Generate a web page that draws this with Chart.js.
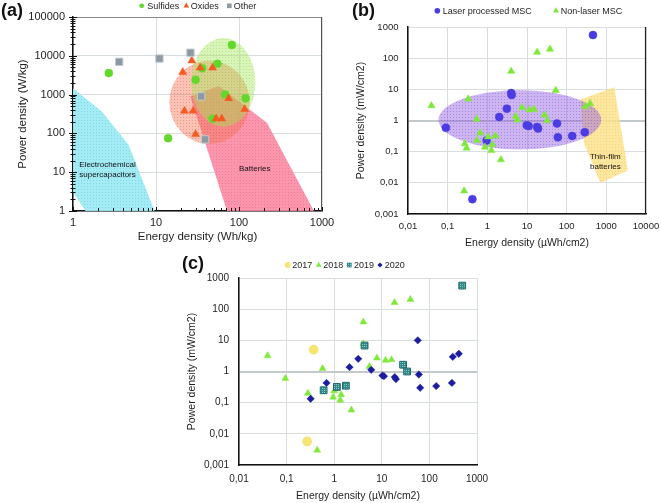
<!DOCTYPE html>
<html>
<head>
<meta charset="utf-8">
<script src="https://cdn.jsdelivr.net/npm/chart.js@4.4.0/dist/chart.umd.min.js"></script>
<style>
html,body{margin:0;padding:0;background:#fff;}
#wrap{position:relative;width:661px;height:503px;overflow:hidden;font-family:"Liberation Sans",Arial,sans-serif;}
#wrap canvas{position:absolute;}
.plabel{position:absolute;font-weight:bold;font-size:18px;line-height:18px;color:#111;}
</style>
</head>
<body>
<div id="wrap">
  <canvas id="ca" width="345" height="250" style="left:0px;top:0px"></canvas>
  <canvas id="cb" width="331" height="250" style="left:330px;top:0px"></canvas>
  <canvas id="cc" width="340" height="253" style="left:160px;top:250px"></canvas>
  <div class="plabel" style="left:1px;top:1px">(a)</div>
  <div class="plabel" style="left:352px;top:1px">(b)</div>
  <div class="plabel" style="left:182px;top:254px">(c)</div>
</div>
<script>
// ---------------- DATA: panel (a) ----------------
const aXTicks = [1, 10, 100, 1000];
const aXTickLabels = ['1', '10', '100', '1000'];
const aYTicks = [1, 10, 100, 1000, 10000, 100000];
const aYTickLabels = ['1', '10', '100', '1000', '10000', '100000'];
const aSulfidesEnergy = [2.7, 14, 30, 36, 55, 82, 68, 120, 48];
const aSulfidesPower  = [3600, 75, 2400, 4800, 6200, 19000, 1000, 800, 240];
const aOxidesEnergy = [21, 27, 34, 48, 22, 28, 30, 75, 53, 62, 117];
const aOxidesPower  = [3800, 7500, 4900, 4900, 380, 380, 95, 800, 240, 240, 420];
const aOtherEnergy = [3.6, 11, 26, 35, 39];
const aOtherPower  = [7000, 8500, 12000, 900, 70];
// shaded regions (energy, power)
const aSupercapRegion = [[1, 1459], [2.24, 363], [4.69, 50], [9.6, 1], [1.41, 1], [1, 3.1]];
const aBatteryRegion = [[25.9, 888], [56.9, 1675], [217, 189], [800, 1], [71.7, 1]];
const aSulfidesEllipse = {center: [64.7, 2064], radiusDecades: [0.386, 1.142]};
const aOxidesEllipse = {center: [44.1, 634], radiusDecades: [0.484, 1.078]};

// ---------------- DATA: panel (b) ----------------
const bXTicks = [0.01, 0.1, 1, 10, 100, 1000, 10000];
const bXTickLabels = ['0,01', '0,1', '1', '10', '100', '1000', '10000'];
const bYTicks = [0.001, 0.01, 0.1, 1, 10, 100, 1000];
const bYTickLabels = ['0,001', '0,01', '0,1', '1', '10', '100', '1000'];
const bLaserEnergy = [0.09, 0.42, 0.96, 2.0, 3.1, 4.0, 4.1, 9.9, 11, 18, 19, 57, 60, 138, 285, 460];
const bLaserPower  = [0.58, 0.003, 0.23, 1.3, 2.4, 7.6, 6.6, 0.7, 0.66, 0.62, 0.55, 0.8, 0.29, 0.32, 0.42, 550];
const bNonLaserEnergy = [0.039, 0.33, 0.54, 0.66, 0.55, 0.27, 0.30, 0.26, 0.87, 1.04, 1.34, 1.26, 1.6, 2.2, 4.0, 5.2, 5.7, 7.5, 11.5, 15, 18, 38, 27.5, 32, 53, 295, 390];
const bNonLaserPower  = [3.0, 4.9, 1.1, 0.4, 0.23, 0.18, 0.13, 0.0055, 0.14, 0.3, 0.17, 0.11, 0.32, 0.055, 38, 1.35, 1.05, 2.6, 2.2, 2.3, 155, 195, 1.5, 1.0, 9.3, 2.8, 3.5];
const bThinFilmRegion = [[220, 4.75], [1592, 11.6], [3470, 0.025], [705, 0.0098], [278, 0.18]];
const bMscEllipse = {center: [6.6, 1.05], radiusDecades: [2.05, 0.95]};

// ---------------- DATA: panel (c) ----------------
const cXTicks = [0.01, 0.1, 1, 10, 100, 1000];
const cXTickLabels = ['0,01', '0,1', '1', '10', '100', '1000'];
const cYTicks = [0.001, 0.01, 0.1, 1, 10, 100, 1000];
const cYTickLabels = ['0,001', '0,01', '0,1', '1', '10', '100', '1000'];
const c2017Energy = [0.37, 0.27];
const c2017Power  = [5, 0.0057];
const c2018Energy = [0.04, 0.094, 0.28, 0.44, 0.57, 0.95, 1.0, 1.34, 1.4, 2.3, 4.1, 4.1, 5.5, 7.9, 12, 16, 18.5, 40];
const c2018Power  = [3.2, 0.6, 0.2, 0.003, 1.25, 0.15, 0.24, 0.12, 0.18, 0.058, 39, 7.7, 1.45, 2.7, 2.3, 2.4, 165, 205];
const c2019Energy = [0.6, 1.14, 1.76, 4.35, 28, 34, 490];
const c2019Power  = [0.25, 0.32, 0.35, 6.8, 1.65, 1.0, 570];
const c2020Energy = [0.32, 0.69, 2.1, 3.2, 6.0, 10.3, 11.1, 18.7, 19.8, 57, 60, 64, 139, 297, 310, 415];
const c2020Power  = [0.133, 0.43, 1.38, 2.55, 1.13, 0.74, 0.71, 0.66, 0.57, 10, 0.8, 0.3, 0.34, 0.43, 2.95, 3.7];

// ---------------- helpers ----------------
const FONT = "'Liberation Sans', Arial, sans-serif";
const TXT = '#1e1e1e';
const GRID = '#d8dde0';
function pts(xs, ys) { return xs.map((x, i) => ({x: x, y: ys[i]})); }
function dotPattern(base, dot, step) {
  const c = document.createElement('canvas');
  c.width = step; c.height = step;
  const g = c.getContext('2d');
  g.fillStyle = base; g.fillRect(0, 0, step, step);
  g.fillStyle = dot;
  g.fillRect(0, 0, 1, 1);
  return g.createPattern(c, 'repeat');
}
function drawMarker(ctx, style, x, y, r) {
  ctx.beginPath();
  if (style === 'circle') ctx.arc(x, y, r, 0, Math.PI * 2);
  else if (style === 'triangle') { ctx.moveTo(x, y - r); ctx.lineTo(x + r * 0.866, y + r * 0.5); ctx.lineTo(x - r * 0.866, y + r * 0.5); ctx.closePath(); }
  else if (style === 'rect') { const s = r * Math.SQRT1_2; ctx.rect(x - s, y - s, 2 * s, 2 * s); }
  else if (style === 'rectRot') { ctx.moveTo(x, y - r); ctx.lineTo(x + r, y); ctx.lineTo(x, y + r); ctx.lineTo(x - r, y); ctx.closePath(); }
  ctx.fill();
}
function regionPlugin(shapes, texts) {
  return {
    id: 'regions',
    beforeDatasetsDraw(chart) {
      const {ctx, chartArea: a, scales: {x, y}} = chart;
      ctx.save();
      ctx.beginPath(); ctx.rect(a.left, a.top, a.right - a.left, a.bottom - a.top); ctx.clip();
      shapes.forEach(s => {
        ctx.fillStyle = s.fill;
        ctx.beginPath();
        if (s.poly) {
          s.poly.forEach((p, i) => {
            const px = x.getPixelForValue(p[0]), py = y.getPixelForValue(p[1]);
            if (i) ctx.lineTo(px, py); else ctx.moveTo(px, py);
          });
          ctx.closePath();
        } else {
          const e = s.ellipse;
          const cx = x.getPixelForValue(e.center[0]), cy = y.getPixelForValue(e.center[1]);
          const rx = x.getPixelForValue(e.center[0] * Math.pow(10, e.radiusDecades[0])) - cx;
          const ry = cy - y.getPixelForValue(e.center[1] * Math.pow(10, e.radiusDecades[1]));
          ctx.ellipse(cx, cy, rx, ry, 0, 0, Math.PI * 2);
        }
        ctx.fill();
      });
      texts.forEach(t => {
        ctx.font = t.font; ctx.fillStyle = '#111'; ctx.textAlign = 'left'; ctx.textBaseline = 'middle';
        const px = x.getPixelForValue(t.at[0]), py = y.getPixelForValue(t.at[1]);
        t.lines.forEach((ln, i) => ctx.fillText(ln, px, py + i * t.lh));
      });
      ctx.restore();
    }
  };
}
function legendPlugin(items, ly, font) {
  return {
    id: 'customLegend',
    afterDraw(chart) {
      const ctx = chart.ctx;
      ctx.save();
      ctx.font = font; ctx.textBaseline = 'middle'; ctx.textAlign = 'left';
      items.forEach(it => {
        const ds = chart.data.datasets[it.ds];
        ctx.fillStyle = ds.backgroundColor;
        drawMarker(ctx, ds.pointStyle, it.x, ly, it.r);
        ctx.fillStyle = TXT;
        ctx.fillText(ds.label, it.x + it.gap, ly + 0.5);
      });
      ctx.restore();
    }
  };
}
function framePlugin(sides) {
  return {
    id: 'frame',
    afterDatasetsDraw(chart) {
      const {ctx, chartArea: a} = chart;
      ctx.save();
      sides.forEach(s => {
        ctx.strokeStyle = s.color; ctx.lineWidth = s.width;
        ctx.beginPath();
        if (s.side === 'top') { ctx.moveTo(a.left, a.top + 0.5); ctx.lineTo(a.right, a.top + 0.5); }
        if (s.side === 'right') { ctx.moveTo(a.right - 0.5, a.top); ctx.lineTo(a.right - 0.5, a.bottom); }
        ctx.stroke();
      });
      ctx.restore();
    }
  };
}
const minorTickPlugin = {
  id: 'minorTicks',
  afterDraw(chart) {
    const {ctx, chartArea: a, scales: {x, y}} = chart;
    ctx.save();
    ctx.strokeStyle = '#111'; ctx.lineWidth = 1;
    ctx.beginPath();
    [1, 10, 100].forEach(d => { for (let m = 1; m <= 10; m++) {
      const px = Math.round(x.getPixelForValue(d * m)) + 0.5;
      const len = (m === 1 || m === 10) ? 4 : 3;
      ctx.moveTo(px, a.bottom); ctx.lineTo(px, a.bottom - len);
    }});
    [1, 10, 100, 1000, 10000].forEach(d => { for (let m = 1; m <= 10; m++) {
      const py = Math.round(y.getPixelForValue(d * m)) + 0.5;
      const len = (m === 1 || m === 10) ? 4 : 2.5;
      ctx.moveTo(a.left - len, py); ctx.lineTo(a.left + len, py);
    }});
    ctx.stroke();
    ctx.restore();
  }
};

function makeChart(id, o) {
  return new Chart(document.getElementById(id), {
    type: 'scatter',
    data: {datasets: o.datasets},
    options: {
      responsive: false, animation: false, devicePixelRatio: 1,
      layout: {padding: o.padding, autoPadding: false},
      plugins: {legend: {display: false}, tooltip: {enabled: false}},
      elements: {point: {hoverRadius: 0}},
      scales: {
        x: {
          type: 'logarithmic', min: o.xTicks[0], max: o.xTicks[o.xTicks.length - 1],
          afterBuildTicks: s => { s.ticks = o.xTicks.map(v => ({value: v})); },
          afterFit: s => { s.height = o.xH; s.paddingLeft = 0; s.paddingRight = 0; },
          ticks: {callback: (v, i) => o.xLabels[i], font: {family: FONT, size: o.tickSize}, color: TXT, padding: o.xTickPad, autoSkip: false, maxRotation: 0},
          grid: {color: GRID, drawTicks: false, lineWidth: 1},
          border: {color: '#111', width: 1.5},
          title: {display: true, text: o.xTitle, font: {family: FONT, size: o.titleSize}, color: TXT, padding: {top: 0, bottom: o.xTitlePad}}
        },
        y: {
          type: 'logarithmic', min: o.yTicks[0], max: o.yTicks[o.yTicks.length - 1],
          afterBuildTicks: s => { s.ticks = o.yTicks.map(v => ({value: v})); },
          afterFit: s => { s.width = o.yW; s.paddingTop = 0; s.paddingBottom = 0; },
          ticks: {callback: (v, i) => o.yLabels[i], font: {family: FONT, size: o.tickSize}, color: TXT, padding: o.yTickPad, autoSkip: false},
          grid: {color: c => (o.thickOne && c.tick && c.tick.value === 1) ? '#c4c9cc' : GRID, drawTicks: false,
                 lineWidth: c => (o.thickOne && c.tick && c.tick.value === 1) ? 2 : 1},
          border: {color: '#111', width: 1.5},
          title: {display: true, text: o.yTitle, font: {family: FONT, size: o.titleSize}, color: TXT, padding: {top: o.yTitlePad, bottom: 0}}
        }
      }
    },
    plugins: o.plugins
  });
}

// ---------------- panel (a) ----------------
makeChart('ca', {
  padding: {left: 0, top: 17, right: 23, bottom: 0}, yW: 73, xH: 39,
  xTicks: aXTicks, xLabels: aXTickLabels, yTicks: aYTicks, yLabels: aYTickLabels,
  tickSize: 11, titleSize: 11.5, xTickPad: 5, yTickPad: 8, xTitlePad: 6, yTitlePad: 16,
  xTitle: 'Energy density (Wh/kg)', yTitle: 'Power density (W/kg)',
  datasets: [
    {label: 'Sulfides', data: pts(aSulfidesEnergy, aSulfidesPower), pointStyle: 'circle', pointRadius: 4,
     backgroundColor: '#62d82b', borderColor: '#62d82b', borderWidth: 0.5, order: 3},
    {label: 'Oxides', data: pts(aOxidesEnergy, aOxidesPower), pointStyle: 'triangle', pointRadius: 4.6,
     backgroundColor: '#f45a22', borderColor: '#f45a22', borderWidth: 0.5, order: 2},
    {label: 'Other', data: pts(aOtherEnergy, aOtherPower), pointStyle: 'rect', pointRadius: 5.2,
     backgroundColor: '#8d9aa3', borderColor: '#c2cace', borderWidth: 1, order: 1}
  ],
  plugins: [
    regionPlugin([
      {poly: aSupercapRegion, fill: dotPattern('rgba(158,234,244,0.95)', 'rgba(130,215,228,0.95)', 3)},
      {poly: aBatteryRegion, fill: dotPattern('rgba(250,136,162,0.88)', 'rgba(238,122,150,0.88)', 3)},
      {ellipse: aOxidesEllipse, fill: dotPattern('rgba(242,112,82,0.42)', 'rgba(228,100,70,0.45)', 3)},
      {ellipse: aSulfidesEllipse, fill: dotPattern('rgba(165,228,85,0.42)', 'rgba(148,212,70,0.45)', 3)}
    ], [
      {lines: ['Electrochemical', 'supercapacitors'], at: [1.19, 15.3], lh: 9.3, font: '8px ' + FONT},
      {lines: ['Batteries'], at: [100, 12.1], lh: 9, font: '8px ' + FONT}
    ]),
    framePlugin([{side: 'top', color: '#8a8a8a', width: 1}, {side: 'right', color: '#555', width: 1}]),
    minorTickPlugin,
    legendPlugin([{ds: 0, x: 141.7, r: 2.4, gap: 5.5}, {ds: 1, x: 186.3, r: 3.2, gap: 4.5}, {ds: 2, x: 229.3, r: 3.3, gap: 4.5}], 5.8, '9px ' + FONT)
  ]
});

// ---------------- panel (b) ----------------
makeChart('cb', {
  padding: {left: 0, top: 27, right: 15, bottom: 0}, yW: 78, xH: 36, thickOne: true,
  xTicks: bXTicks, xLabels: bXTickLabels, yTicks: bYTicks, yLabels: bYTickLabels,
  tickSize: 9.5, titleSize: 10.5, xTickPad: 7, yTickPad: 9.5, xTitlePad: 0.5, yTitlePad: 25,
  xTitle: 'Energy density (\u00b5Wh/cm2)', yTitle: 'Power density (mW/cm2)',
  datasets: [
    {label: 'Laser processed MSC', data: pts(bLaserEnergy, bLaserPower), pointStyle: 'circle', pointRadius: 4,
     backgroundColor: '#4a3ce2', borderColor: '#4a3ce2', borderWidth: 0.5, order: 2},
    {label: 'Non-laser MSC', data: pts(bNonLaserEnergy, bNonLaserPower), pointStyle: 'triangle', pointRadius: 4.2,
     backgroundColor: '#7ee83a', borderColor: '#7ee83a', borderWidth: 0.5, order: 1}
  ],
  plugins: [
    regionPlugin([
      {poly: bThinFilmRegion, fill: dotPattern('rgba(253,226,140,0.85)', 'rgba(243,212,125,0.85)', 3)},
      {ellipse: bMscEllipse, fill: dotPattern('rgba(150,100,225,0.48)', 'rgba(138,90,215,0.5)', 3)}
    ], [
      {lines: ['Thin-film', 'batteries'], at: [387, 0.066], lh: 9.4, font: '8px ' + FONT}
    ]),
    framePlugin([{side: 'right', color: '#222', width: 1.2}]),
    legendPlugin([{ds: 0, x: 107.3, r: 2.8, gap: 5.4}, {ds: 1, x: 226, r: 3.5, gap: 4.7}], 10.7, '9px ' + FONT)
  ]
});

// ---------------- panel (c) ----------------
makeChart('cc', {
  padding: {left: 0, top: 28, right: 23, bottom: 0}, yW: 79, xH: 38, thickOne: true,
  xTicks: cXTicks, xLabels: cXTickLabels, yTicks: cYTicks, yLabels: cYTickLabels,
  tickSize: 10, titleSize: 10.5, xTickPad: 8, yTickPad: 10, xTitlePad: 0.7, yTitlePad: 25.7,
  xTitle: 'Energy density (\u00b5Wh/cm2)', yTitle: 'Power density (mW/cm2)',
  datasets: [
    {label: '2017', data: pts(c2017Energy, c2017Power), pointStyle: 'circle', pointRadius: 4.6,
     backgroundColor: '#f6e571', borderColor: '#f1dc60', borderWidth: 0.5, order: 4},
    {label: '2018', data: pts(c2018Energy, c2018Power), pointStyle: 'triangle', pointRadius: 4,
     backgroundColor: '#80e83c', borderColor: '#80e83c', borderWidth: 0.5, order: 3},
    {label: '2019', data: pts(c2019Energy, c2019Power), pointStyle: 'rect', pointRadius: 4.8,
     backgroundColor: dotPattern('#2f8a8a', '#8cc6c5', 2), borderColor: '#216b6b', borderWidth: 1, order: 2},
    {label: '2020', data: pts(c2020Energy, c2020Power), pointStyle: 'rectRot', pointRadius: 3.7,
     backgroundColor: '#1c1ca0', borderColor: '#1c1ca0', borderWidth: 0.5, order: 1}
  ],
  plugins: [
    legendPlugin([{ds: 0, x: 127.7, r: 2.9, gap: 4.6}, {ds: 1, x: 158.7, r: 3.3, gap: 4.6},
                  {ds: 2, x: 189.3, r: 3.4, gap: 4.7}, {ds: 3, x: 220, r: 2.6, gap: 4.7}], 15, '9px ' + FONT)
  ]
});
</script>
</body>
</html>
